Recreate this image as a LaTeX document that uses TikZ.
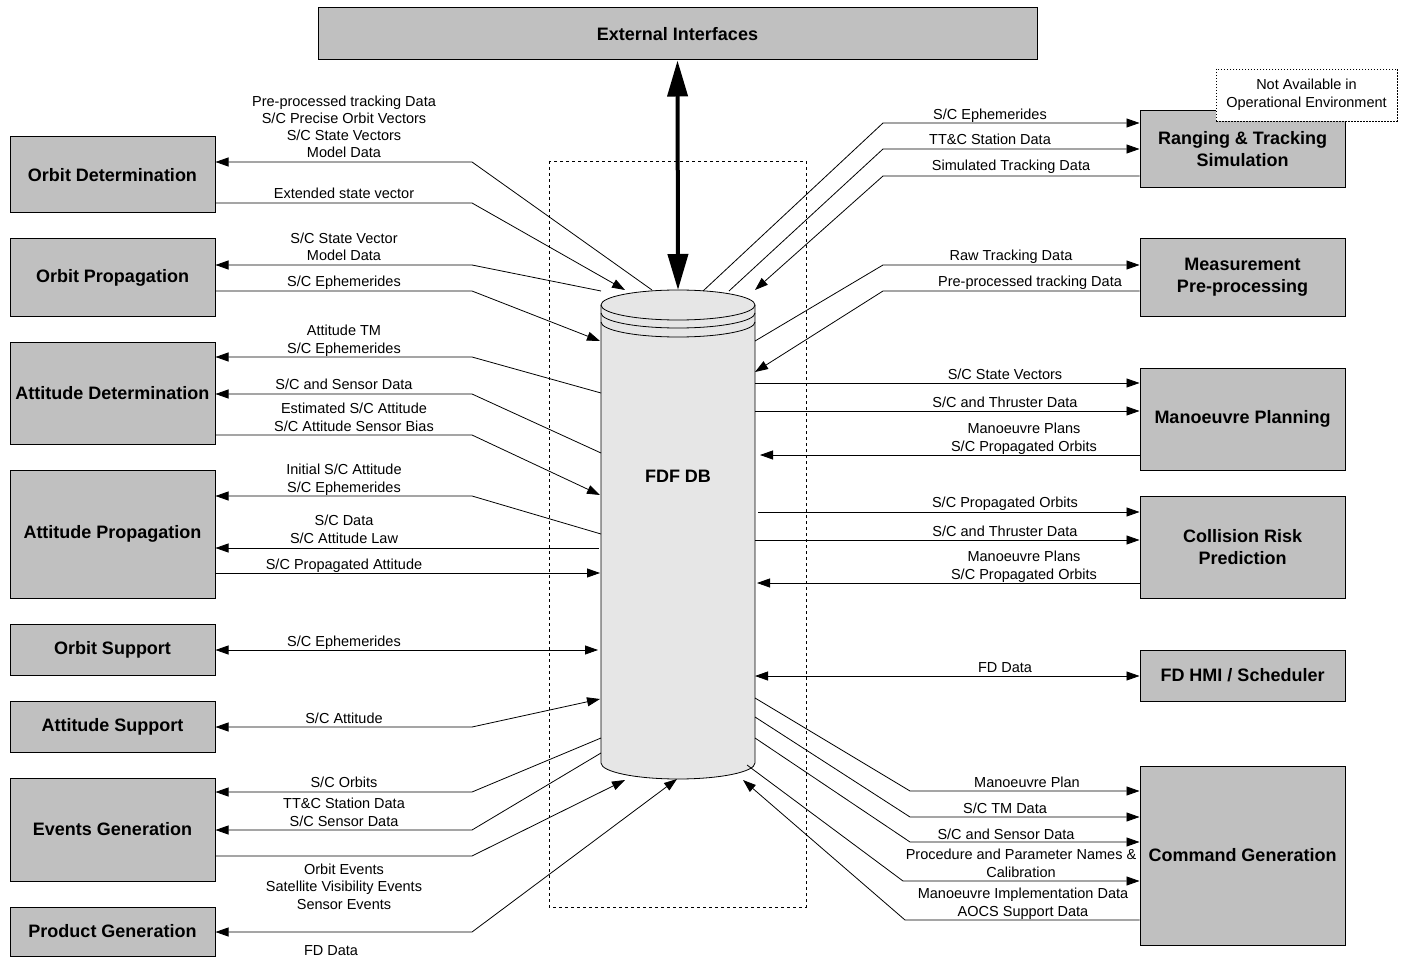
\documentclass[tikz,border=0pt]{standalone}
\usepackage{fontspec}
\setmainfont{Liberation Sans}
\usetikzlibrary{arrows.meta}

\definecolor{boxgray}{RGB}{192,192,192}
\definecolor{dbgray}{RGB}{230,230,230}

\tikzset{
  blk/.style={draw, line width=1pt, fill=boxgray, minimum width=205pt, align=center,
    font=\bfseries\fontsize{18}{22}\selectfont},
  lbl/.style={inner sep=0pt, anchor=base, align=center, font=\fontsize{14.5}{17.3}\selectfont},
  note/.style={draw, fill=white, dash pattern=on 1.5pt off 1.5pt, minimum width=181pt,
    minimum height=52pt, align=center, font=\fontsize{14.5}{18}\selectfont},
  flow/.style={line width=0.8pt},
}

\begin{document}
\begin{tikzpicture}[x=1pt,y=-1pt,>={Triangle[length=13pt,width=9pt]}]
\useasboundingbox (0,0) rectangle (1404,957);

% blocks
\node[blk, minimum width=719pt, minimum height=52pt] (ext) at (677.5,34) {External Interfaces};

\node[blk, minimum height=76pt]  (od) at (112.5,175)   {Orbit Determination};
\node[blk, minimum height=77pt]  (op) at (112.5,277.5) {Orbit Propagation};
\node[blk, minimum height=102pt] (ad) at (112.5,393)   {Attitude Determination};
\node[blk, minimum height=128pt] (ap) at (112.5,534)   {Attitude Propagation};
\node[blk, minimum height=51pt]  (os) at (112.5,649.5) {Orbit Support};
\node[blk, minimum height=51pt]  (as) at (112.5,726.5) {Attitude Support};
\node[blk, minimum height=103pt] (eg) at (112.5,829.5) {Events Generation};
\node[blk, minimum height=49pt]  (pg) at (112.5,931.5) {Product Generation};

\node[blk, minimum height=77pt]  (rts) at (1242.5,149.5) {Ranging \& Tracking\\Simulation};
\node[blk, minimum height=77pt]  (mpp) at (1242.5,277.5) {Measurement\\Pre-processing};
\node[blk, minimum height=102pt] (mp)  at (1242.5,419)   {Manoeuvre Planning};
\node[blk, minimum height=102pt] (crp) at (1242.5,547)   {Collision Risk\\Prediction};
\node[blk, minimum height=51pt]  (hmi) at (1242.5,675.5) {FD HMI / Scheduler};
\node[blk, minimum height=179pt] (cg)  at (1242.5,855.5) {Command Generation};

\node[note] (na) at (1306.5,95) {Not Available in\\Operational Environment};

% database
\draw[dashed] (549,161) rectangle (806,907);
\filldraw[fill=dbgray, line width=0.8pt] (601,305) -- (601,763)
  arc[start angle=180, end angle=360, x radius=77pt, y radius=16pt] -- (755,305)
  arc[start angle=0, end angle=180, x radius=77pt, y radius=15pt] -- cycle;
\foreach \d in {0,8,17}
  \draw[line width=0.8pt] (601,{305+\d}) arc[start angle=180, end angle=360, x radius=77pt, y radius=15pt];
\node[font=\bfseries\fontsize{18}{22}\selectfont] (db) at (678,476) {FDF DB};

\coordinate (c-ext) at (678,290);
\draw[line width=4pt, {Triangle[length=36pt,width=20pt]}-{Triangle[length=36pt,width=20pt]}] (ext.south) -- (c-ext);

% left side
\coordinate (c-od1) at (652,290); \coordinate (b-od1) at (472,162);
\coordinate (c-od2) at (625,290); \coordinate (b-od2) at (472,203);
\coordinate (c-op1) at (601,291); \coordinate (b-op1) at (472,265);
\coordinate (c-op2) at (600,341); \coordinate (b-op2) at (472,291);
\coordinate (c-ad1) at (601,393); \coordinate (b-ad1) at (472,357);
\coordinate (c-ad2) at (601,453); \coordinate (b-ad2) at (472,394);
\coordinate (c-ad3) at (600,495); \coordinate (b-ad3) at (472,435);
\coordinate (c-ap1) at (601,534); \coordinate (b-ap1) at (472,496);
\coordinate (c-ap2) at (599,548);
\coordinate (c-ap3) at (600,573);
\coordinate (c-os)  at (598,650);
\coordinate (c-as)  at (600,699); \coordinate (b-as)  at (472,727);
\coordinate (c-eg1) at (601,738); \coordinate (b-eg1) at (472,792);
\coordinate (c-eg2) at (601,753); \coordinate (b-eg2) at (472,830);
\coordinate (c-eg3) at (625,780); \coordinate (b-eg3) at (472,856);
\coordinate (c-pg)  at (677,779); \coordinate (b-pg)  at (472,932);

\draw[flow,->] (c-od1) -- (b-od1) -- (b-od1 -| od.east);
\draw[flow,->] (b-od2 -| od.east) -- (b-od2) -- (c-od2);
\draw[flow,->] (c-op1) -- (b-op1) -- (b-op1 -| op.east);
\draw[flow,->] (b-op2 -| op.east) -- (b-op2) -- (c-op2);
\draw[flow,->] (c-ad1) -- (b-ad1) -- (b-ad1 -| ad.east);
\draw[flow,->] (c-ad2) -- (b-ad2) -- (b-ad2 -| ad.east);
\draw[flow,->] (b-ad3 -| ad.east) -- (b-ad3) -- (c-ad3);
\draw[flow,->] (c-ap1) -- (b-ap1) -- (b-ap1 -| ap.east);
\draw[flow,->] (c-ap2) -- (c-ap2 -| ap.east);
\draw[flow,->] (c-ap3 -| ap.east) -- (c-ap3);
\draw[flow,<->] (c-os -| os.east) -- (c-os);
\draw[flow,<->] (b-as -| as.east) -- (b-as) -- (c-as);
\draw[flow,->] (c-eg1) -- (b-eg1) -- (b-eg1 -| eg.east);
\draw[flow,->] (c-eg2) -- (b-eg2) -- (b-eg2 -| eg.east);
\draw[flow,->] (b-eg3 -| eg.east) -- (b-eg3) -- (c-eg3);
\draw[flow,<->] (b-pg -| pg.east) -- (b-pg) -- (c-pg);

\node[lbl] (l-od1) at (344,158) {Pre-processed tracking Data\\S/C Precise Orbit Vectors\\S/C State Vectors\\Model Data};
\node[lbl] (l-od2) at (344,199) {Extended state vector};
\node[lbl] (l-op1) at (344,261) {S/C State Vector\\Model Data};
\node[lbl] (l-op2) at (344,287) {S/C Ephemerides};
\node[lbl] (l-ad1) at (344,353) {Attitude TM\\S/C Ephemerides};
\node[lbl] (l-ad2) at (344,389) {S/C and Sensor Data};
\node[lbl] (l-ad3) at (354,431) {Estimated S/C Attitude\\S/C Attitude Sensor Bias};
\node[lbl] (l-ap1) at (344,492) {Initial S/C Attitude\\S/C Ephemerides};
\node[lbl] (l-ap2) at (344,543) {S/C Data\\S/C Attitude Law};
\node[lbl] (l-ap3) at (344,569) {S/C Propagated Attitude};
\node[lbl] (l-os)  at (344,646) {S/C Ephemerides};
\node[lbl] (l-as)  at (344,723) {S/C Attitude};
\node[lbl] (l-eg1) at (344,787) {S/C Orbits};
\node[lbl] (l-eg2) at (344,826) {TT\&C Station Data\\S/C Sensor Data};
\node[lbl] (l-eg3) at (344,909) {Orbit Events\\Satellite Visibility Events\\Sensor Events};
\node[lbl] (l-pg)  at (331,955) {FD Data};

% right side
\coordinate (c-r1) at (703,291); \coordinate (b-r1) at (883,123);
\coordinate (c-r2) at (729,291); \coordinate (b-r2) at (883,149);
\coordinate (c-r3) at (755,290); \coordinate (b-r3) at (883,176);
\coordinate (c-m1) at (755,341); \coordinate (b-m1) at (883,265);
\coordinate (c-m2) at (755,372); \coordinate (b-m2) at (883,291);
\coordinate (c-p1) at (755,383);
\coordinate (c-p2) at (755,411);
\coordinate (c-p3) at (760,455);
\coordinate (c-k1) at (758,512);
\coordinate (c-k2) at (755,540);
\coordinate (c-k3) at (757,583);
\coordinate (c-h)  at (755,676);
\coordinate (c-g1) at (755,698); \coordinate (b-g1) at (910,791);
\coordinate (c-g2) at (755,717); \coordinate (b-g2) at (910,817);
\coordinate (c-g3) at (755,738); \coordinate (b-g3) at (910,842);
\coordinate (c-g4) at (747,765); \coordinate (b-g4) at (903,881);
\coordinate (c-g5) at (743,780); \coordinate (b-g5) at (905,920);

\draw[flow,->] (c-r1) -- (b-r1) -- (b-r1 -| rts.west);
\draw[flow,->] (c-r2) -- (b-r2) -- (b-r2 -| rts.west);
\draw[flow,->] (b-r3 -| rts.west) -- (b-r3) -- (c-r3);
\draw[flow,->] (c-m1) -- (b-m1) -- (b-m1 -| mpp.west);
\draw[flow,->] (b-m2 -| mpp.west) -- (b-m2) -- (c-m2);
\draw[flow,->] (c-p1) -- (c-p1 -| mp.west);
\draw[flow,->] (c-p2) -- (c-p2 -| mp.west);
\draw[flow,->] (c-p3 -| mp.west) -- (c-p3);
\draw[flow,->] (c-k1) -- (c-k1 -| crp.west);
\draw[flow,->] (c-k2) -- (c-k2 -| crp.west);
\draw[flow,->] (c-k3 -| crp.west) -- (c-k3);
\draw[flow,<->] (c-h) -- (c-h -| hmi.west);
\draw[flow,->] (c-g1) -- (b-g1) -- (b-g1 -| cg.west);
\draw[flow,->] (c-g2) -- (b-g2) -- (b-g2 -| cg.west);
\draw[flow,->] (c-g3) -- (b-g3) -- (b-g3 -| cg.west);
\draw[flow,->] (c-g4) -- (b-g4) -- (b-g4 -| cg.west);
\draw[flow,->] (b-g5 -| cg.west) -- (b-g5) -- (c-g5);

\node[lbl] (l-r1) at (990,120)  {S/C Ephemerides};
\node[lbl] (l-r2) at (990,145)  {TT\&C Station Data};
\node[lbl] (l-r3) at (1011,171) {Simulated Tracking Data};
\node[lbl] (l-m1) at (1011,261) {Raw Tracking Data};
\node[lbl] (l-m2) at (1030,287) {Pre-processed tracking Data};
\node[lbl] (l-p1) at (1005,379) {S/C State Vectors};
\node[lbl] (l-p2) at (1005,407) {S/C and Thruster Data};
\node[lbl] (l-p3) at (1024,451) {Manoeuvre Plans\\S/C Propagated Orbits};
\node[lbl] (l-k1) at (1005,507) {S/C Propagated Orbits};
\node[lbl] (l-k2) at (1005,536) {S/C and Thruster Data};
\node[lbl] (l-k3) at (1024,579) {Manoeuvre Plans\\S/C Propagated Orbits};
\node[lbl] (l-h)  at (1005,672) {FD Data};
\node[lbl] (l-g1) at (1027,787) {Manoeuvre Plan};
\node[lbl] (l-g2) at (1005,813) {S/C TM Data};
\node[lbl] (l-g3) at (1006,839) {S/C and Sensor Data};
\node[lbl] (l-g4) at (1021,877) {Procedure and Parameter Names \&\\Calibration};
\node[lbl] (l-g5) at (1023,916) {Manoeuvre Implementation Data\\AOCS Support Data};
\end{tikzpicture}
\end{document}
